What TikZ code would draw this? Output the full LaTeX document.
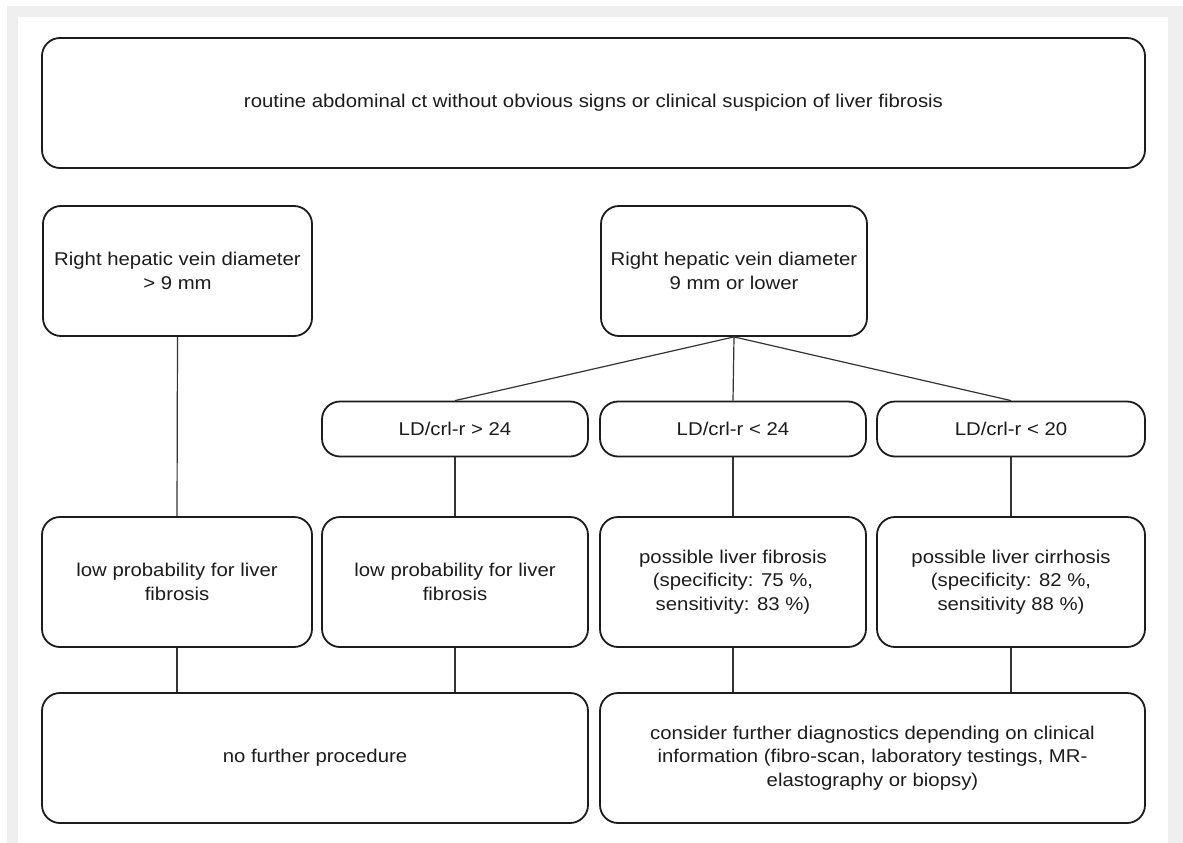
\documentclass[tikz,border=0pt]{standalone}
\usepackage{fontspec}
\setmainfont{Liberation Sans}
\newfontfamily\chartfont[FakeStretch=1.1]{Liberation Sans}
\definecolor{bandgray}{HTML}{EFEFEF}
\definecolor{inkc}{HTML}{1C1C1C}
\definecolor{linec}{HTML}{333333}
\begin{document}
\begin{tikzpicture}[x=1pt,y=-1pt,
  box/.style={draw=inkc, line width=1.8pt, rounded corners=18pt, align=center,
    inner sep=0pt, text=inkc, font={\chartfont\fontsize{18.5}{23.5}\selectfont}},
  conn/.style={draw=linec, line width=1.2pt}]
\useasboundingbox (0,0) rectangle (1183,843);
\fill[white] (0,0) rectangle (1183,843);
\fill[bandgray] (7,6) rectangle (1183,843);
\fill[white] (18,17) rectangle (1168,843);

\node[box, minimum width=1103pt, minimum height=130pt] (top) at (593.5,103)
  {routine abdominal ct without obvious signs or clinical suspicion of liver fibrosis};

\node[box, minimum width=269pt, minimum height=130pt] (rA) at (177.5,271)
  {Right hepatic vein diameter\\> 9 mm};
\node[box, minimum width=266pt, minimum height=130pt] (rB) at (734,271)
  {Right hepatic vein diameter\\9 mm or lower};

\node[box, minimum width=266pt, minimum height=55pt] (ld1) at (455,429) {LD/crl-r > 24};
\node[box, minimum width=266pt, minimum height=55pt] (ld2) at (733,429) {LD/crl-r < 24};
\node[box, minimum width=268pt, minimum height=55pt] (ld3) at (1011,429) {LD/crl-r < 20};

\node[box, minimum width=270pt, minimum height=130pt] (lowA) at (177,582)
  {low probability for liver\\fibrosis};
\node[box, minimum width=266pt, minimum height=130pt] (low2) at (455,582)
  {low probability for liver\\fibrosis};
\node[box, minimum width=266pt, minimum height=130pt] (fib) at (733,582)
  {possible liver fibrosis\\(specificity: 75 \%,\\sensitivity: 83 \%)};
\node[box, minimum width=268pt, minimum height=130pt] (cir) at (1011,582)
  {possible liver cirrhosis\\(specificity: 82 \%,\\sensitivity 88 \%)};

\node[box, minimum width=546pt, minimum height=130pt] (nof) at (315,758)
  {no further procedure};
\node[box, minimum width=545pt, minimum height=130pt] (cons) at (872.5,758)
  {consider further diagnostics depending on clinical\\information (fibro-scan, laboratory testings, MR-\\elastography or biopsy)};

\draw[conn] (rA.south) -- (lowA.north);
\draw[conn] (rB.south) -- (ld1.north);
\draw[conn] (rB.south) -- (ld2.north);
\draw[conn] (rB.south) -- (ld3.north);
\draw[conn] (ld1.south) -- (low2.north);
\draw[conn] (ld2.south) -- (fib.north);
\draw[conn] (ld3.south) -- (cir.north);
\draw[conn] (lowA.south) -- (lowA.south |- nof.north);
\draw[conn] (low2.south) -- (low2.south |- nof.north);
\draw[conn] (fib.south) -- (fib.south |- cons.north);
\draw[conn] (cir.south) -- (cir.south |- cons.north);
\end{tikzpicture}
\end{document}
